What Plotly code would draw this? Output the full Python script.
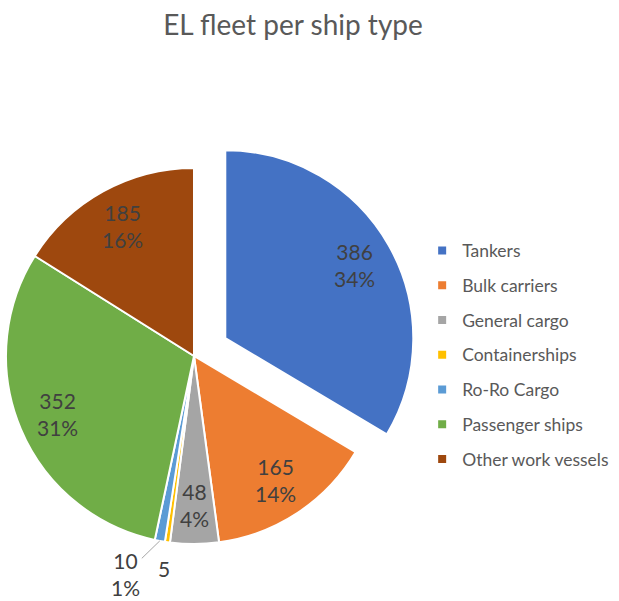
import numpy as np
import plotly.graph_objects as go

# Data
ship_types = ["Tankers", "Bulk carriers", "General cargo", "Containerships",
              "Ro-Ro Cargo", "Passenger ships", "Other work vessels"]
fleet = [386, 165, 48, 5, 10, 352, 185]
colors = ["#4472C4", "#ED7D31", "#A5A5A5", "#FFC000", "#5B9BD5", "#70AD47", "#9E480E"]

# Layout geometry (pixels)
W, H = 619, 601
cx, cy, r = 194, 356, 188
pull_px = 36
label_frac = 0.79
clear = "rgba(0,0,0,0)"

total = sum(fleet)
shares = np.array(fleet) / total
ends = np.cumsum(shares) * 360
mids = ends - shares * 180

# centre of the exploded tankers slice
a0 = np.radians(mids[0])
tx, ty = cx + pull_px * np.sin(a0), cy - pull_px * np.cos(a0)


def domain(x0, y0):
    return dict(x=[(x0 - r) / W, (x0 + r) / W], y=[1 - (y0 + r) / H, 1 - (y0 - r) / H])


def paper(px, py):
    return px / W, 1 - py / H


fig = go.Figure()

# main pie without the tankers slice
fig.add_trace(go.Pie(
    labels=ship_types, values=fleet, sort=False, direction="clockwise", rotation=0,
    marker=dict(colors=[clear] + colors[1:],
                line=dict(color=[clear] + ["white"] * 6, width=2)),
    textinfo="none", hoverinfo="label+value+percent", showlegend=False,
    domain=domain(cx, cy)
))
# exploded tankers slice
fig.add_trace(go.Pie(
    labels=ship_types, values=fleet, sort=False, direction="clockwise", rotation=0,
    marker=dict(colors=[colors[0]] + [clear] * 6,
                line=dict(color=["white"] + [clear] * 6, width=2)),
    textinfo="none", hoverinfo="skip", showlegend=False,
    domain=domain(tx, ty)
))

# legend entries
for name, c in zip(ship_types, colors):
    fig.add_trace(go.Scatter(
        x=[None], y=[None], mode="markers", name=name, legendgroup=name,
        marker=dict(symbol="square", size=8, color=c)
    ))

# data labels
annotations = []
for i, (v, s, m) in enumerate(zip(fleet, shares, mids)):
    pct = int(round(s * 100))
    text = f"{v}<br>{pct}%" if pct > 0 else f"{v}"
    a = np.radians(m)
    ox, oy = (tx, ty) if i == 0 else (cx, cy)
    font = dict(family="Lato", size=21, color="#404040")
    if s > 0.02:
        px, py = ox + label_frac * r * np.sin(a), oy - label_frac * r * np.cos(a)
        x, y = paper(px, py)
        annotations.append(dict(x=x, y=y, xref="paper", yref="paper", text=text,
                                xanchor="center", yanchor="middle",
                                showarrow=False, font=font))
    elif pct == 0:
        px, py = ox + 1.14 * r * np.sin(a), oy - 1.14 * r * np.cos(a)
        x, y = paper(px, py)
        annotations.append(dict(x=x, y=y, xref="paper", yref="paper", text=text,
                                xanchor="center", yanchor="middle",
                                showarrow=False, font=font))
    else:
        px, py = ox + r * np.sin(a), oy - r * np.cos(a)
        x, y = paper(px, py)
        annotations.append(dict(x=x, y=y, xref="paper", yref="paper", text=text,
                                showarrow=True, arrowhead=0, arrowwidth=1,
                                arrowcolor="#A6A6A6", ax=-34, ay=33, font=font))

fig.update_layout(
    width=W, height=H,
    title=dict(text="EL fleet per ship type", x=293 / W, xanchor="center",
               y=1 - 25 / H, yanchor="middle",
               font=dict(family="Lato", size=28, color="#595959")),
    legend=dict(x=0.682, y=1 - 355 / H, xanchor="left", yanchor="middle",
                tracegroupgap=9, itemwidth=30,
                font=dict(family="Lato", size=17.5, color="#595959")),
    xaxis=dict(visible=False), yaxis=dict(visible=False),
    annotations=annotations,
    plot_bgcolor="white", paper_bgcolor="white",
    margin=dict(l=0, r=0, t=0, b=0)
)

fig.write_html("out.html", config={"displayModeBar": False},
               post_script="document.body.style.margin='0';")
